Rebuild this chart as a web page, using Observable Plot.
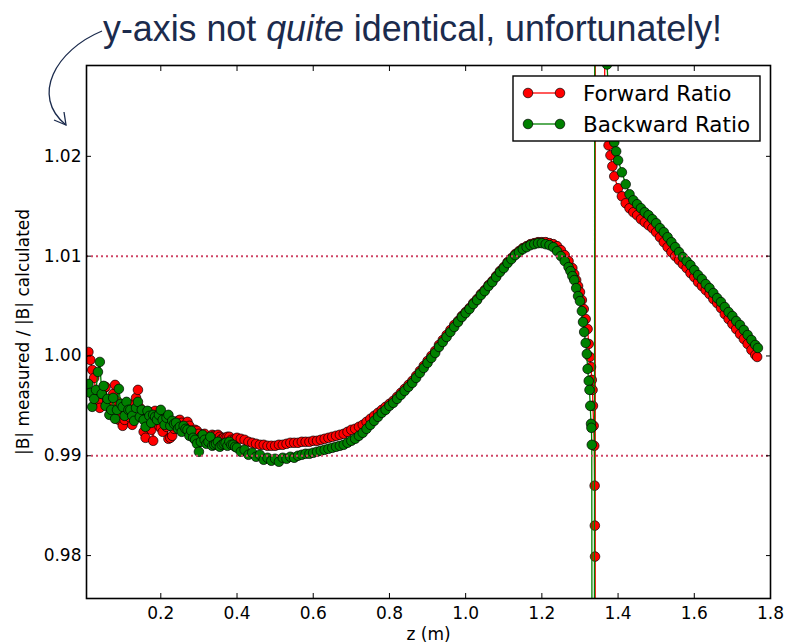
<!DOCTYPE html>
<html>
<head>
<meta charset="utf-8">
<script src="https://cdn.jsdelivr.net/npm/d3@7"></script>
<script src="https://cdn.jsdelivr.net/npm/@observablehq/plot@0.6"></script>
<style>
  html, body { margin: 0; padding: 0; background: #fff; }
  #wrap { position: relative; width: 788px; height: 644px; background: #fff; }
  #wrap > svg { position: absolute; left: 0; top: 0; }
</style>
</head>
<body>
<div id="wrap"></div>
<script>
// Field ratio along the probe path, forward scan (z in metres)
const forwardZ = [
  0.010,0.015,0.020,0.025,0.030,0.035,0.040,0.045,0.050,0.055,
  0.060,0.065,0.070,0.075,0.080,0.085,0.090,0.095,0.100,0.105,
  0.110,0.115,0.120,0.125,0.130,0.135,0.140,0.145,0.150,0.155,
  0.160,0.165,0.170,0.175,0.180,0.185,0.190,0.195,0.200,0.205,
  0.210,0.215,0.220,0.225,0.230,0.235,0.240,0.245,0.250,0.255,
  0.260,0.265,0.270,0.275,0.280,0.285,0.290,0.295,0.300,0.305,
  0.310,0.315,0.320,0.325,0.330,0.335,0.340,0.345,0.350,0.355,
  0.360,0.365,0.370,0.375,0.380,0.385,0.390,0.395,0.400,
  0.41,0.42,0.43,0.44,0.45,0.46,0.47,0.48,0.49,0.50,
  0.51,0.52,0.53,0.54,0.55,0.56,0.57,0.58,0.59,0.60,
  0.61,0.62,0.63,0.64,0.65,0.66,0.67,0.68,0.69,0.70,
  0.71,0.72,0.73,0.74,0.75,0.76,0.77,0.78,0.79,0.80,
  0.81,0.82,0.83,0.84,0.85,0.86,0.87,0.88,0.89,0.90,
  0.91,0.92,0.93,0.94,0.95,0.96,0.97,0.98,0.99,1.00,
  1.01,1.02,1.03,1.04,1.05,1.06,1.07,1.08,1.09,1.10,
  1.11,1.12,1.13,1.14,1.15,1.16,1.17,1.18,1.19,1.20,
  1.21,1.22,1.23,1.24,1.25,1.26,1.27,1.28,1.285,1.29,
  1.295,1.30,1.305,1.31,1.315,1.32,1.323,1.326,1.329,1.331,
  1.333,1.334,1.336,1.3375,1.3385,1.339,1.3395,1.3397,1.3405,
  1.365,1.368,1.371,1.375,1.38,1.385,1.39,
  1.40,1.41,1.42,1.43,1.44,1.45,1.46,1.47,1.48,1.49,
  1.50,1.51,1.52,1.53,1.54,1.55,1.56,1.57,1.58,1.59,
  1.60,1.61,1.62,1.63,1.64,1.65,1.66,1.67,1.68,1.69,
  1.70,1.71,1.72,1.73,1.74,1.75,1.76,1.765
];
const forwardRatio = [
  1.0004,0.9996,0.9986,0.9978,0.9962,0.9955,0.9948,0.9962,0.9967,0.9969,
  0.9955,0.9949,0.9951,0.9962,0.9971,0.9955,0.9936,0.9941,0.9930,0.9936,
  0.9945,0.9950,0.9938,0.9931,0.9952,0.9958,0.9966,0.9948,0.9940,0.9924,
  0.9918,0.9935,0.9944,0.9926,0.9915,0.9945,0.9938,0.9930,0.9928,0.9924,
  0.9934,0.9929,0.9917,0.9918,0.9920,0.9927,0.9931,0.9935,0.9936,0.9933,
  0.9929,0.9928,0.9934,0.9930,0.9925,0.9923,0.9926,0.9925,0.9922,0.9919,
  0.9921,0.9922,0.9916,0.9917,0.9918,0.9921,0.9920,0.9918,0.9921,0.9919,
  0.9917,0.9918,0.9918,0.9919,0.9919,0.9916,0.9915,0.9917,0.9918,
  0.9917,0.9916,0.9914,0.9913,0.9912,0.9911,0.9911,0.9910,0.9910,0.9910,
  0.9911,0.9911,0.9912,0.9913,0.9913,0.9913,0.9914,0.9914,0.9914,0.9915,
  0.9915,0.9916,0.9917,0.9918,0.9919,0.9920,0.9921,0.9922,0.9924,0.9926,
  0.9927,0.9929,0.9931,0.9934,0.9937,0.9940,0.9943,0.9946,0.9949,0.9952,
  0.9955,0.9959,0.9963,0.9967,0.9971,0.9975,0.9980,0.9985,0.9990,0.9995,
  1.0000,1.0005,1.0011,1.0016,1.0021,1.0026,1.0031,1.0035,1.0040,1.0044,
  1.0048,1.0053,1.0057,1.0062,1.0066,1.0071,1.0075,1.0080,1.0085,1.0089,
  1.0094,1.0098,1.0102,1.0105,1.0108,1.0110,1.0112,1.0113,1.0114,1.0114,
  1.0114,1.0113,1.0112,1.0110,1.0106,1.0101,1.0095,1.0088,1.0082,1.0076,
  1.0070,1.0064,1.0056,1.0047,1.0037,1.0027,1.0012,0.9999,0.9989,0.9976,
  0.9966,0.9950,0.9930,0.9910,0.9870,0.9830,0.9799,0.8000,1.3000,
  1.0275,1.0250,1.0228,1.0211,1.0201,1.0190,1.0180,
  1.0168,1.0160,1.0153,1.0148,1.0144,1.0141,1.0137,1.0134,1.0131,1.0128,
  1.0124,1.0119,1.0114,1.0109,1.0104,1.0100,1.0096,1.0092,1.0088,1.0083,
  1.0079,1.0074,1.0070,1.0066,1.0062,1.0057,1.0053,1.0048,1.0042,1.0037,
  1.0032,1.0027,1.0022,1.0017,1.0012,1.0006,1.0001,0.9999
];

// Backward scan
const backwardZ = [
  0.010,0.015,0.020,0.025,0.030,0.035,0.040,0.045,0.050,0.055,
  0.060,0.065,0.070,0.075,0.080,0.085,0.090,0.095,0.100,0.105,
  0.110,0.115,0.120,0.125,0.130,0.135,0.140,0.145,0.150,0.155,
  0.160,0.165,0.170,0.175,0.180,0.185,0.190,0.195,0.200,0.205,
  0.210,0.215,0.220,0.225,0.230,0.235,0.240,0.245,0.250,0.255,
  0.260,0.265,0.270,0.275,0.280,0.285,0.290,0.295,0.300,0.305,
  0.310,0.315,0.320,0.325,0.330,0.335,0.340,0.345,0.350,0.355,
  0.360,0.365,0.370,0.375,0.380,0.385,0.390,0.395,0.400,
  0.41,0.42,0.43,0.44,0.45,0.46,0.47,0.48,0.49,0.50,
  0.51,0.52,0.53,0.54,0.55,0.56,0.57,0.58,0.59,0.60,
  0.61,0.62,0.63,0.64,0.65,0.66,0.67,0.68,0.69,0.70,
  0.71,0.72,0.73,0.74,0.75,0.76,0.77,0.78,0.79,0.80,
  0.81,0.82,0.83,0.84,0.85,0.86,0.87,0.88,0.89,0.90,
  0.91,0.92,0.93,0.94,0.95,0.96,0.97,0.98,0.99,1.00,
  1.01,1.02,1.03,1.04,1.05,1.06,1.07,1.08,1.09,1.10,
  1.11,1.12,1.13,1.14,1.15,1.16,1.17,1.18,1.19,1.20,
  1.21,1.22,1.23,1.24,1.25,1.26,1.27,1.275,1.28,1.285,
  1.29,1.295,1.30,1.305,1.308,1.311,1.315,1.318,1.320,1.323,
  1.325,1.327,1.329,1.330,1.331,1.3355,1.3425,
  1.371,1.374,1.378,1.382,1.386,1.39,1.395,
  1.40,1.41,1.42,1.43,1.44,1.45,1.46,1.47,1.48,1.49,
  1.50,1.51,1.52,1.53,1.54,1.55,1.56,1.57,1.58,1.59,
  1.60,1.61,1.62,1.63,1.64,1.65,1.66,1.67,1.68,1.69,
  1.70,1.71,1.72,1.73,1.74,1.75,1.76,1.767
];
const backwardRatio = [
  0.9972,0.9963,0.9949,0.9957,0.9966,0.9984,0.9994,0.9962,0.9970,0.9950,
  0.9957,0.9941,0.9946,0.9958,0.9937,0.9946,0.9967,0.9952,0.9949,0.9940,
  0.9954,0.9946,0.9946,0.9940,0.9935,0.9948,0.9954,0.9939,0.9946,0.9936,
  0.9929,0.9945,0.9940,0.9933,0.9941,0.9939,0.9936,0.9941,0.9946,0.9936,
  0.9931,0.9938,0.9941,0.9930,0.9935,0.9932,0.9933,0.9927,0.9929,0.9924,
  0.9930,0.9927,0.9926,0.9920,0.9925,0.9918,0.9916,0.9912,0.9904,0.9914,
  0.9921,0.9916,0.9912,0.9914,0.9919,0.9910,0.9911,0.9912,0.9914,0.9909,
  0.9911,0.9912,0.9913,0.9910,0.9914,0.9911,0.9911,0.9909,0.9908,
  0.9904,0.9906,0.9901,0.9903,0.9899,0.9901,0.9896,0.9898,0.9895,0.9897,
  0.9894,0.9898,0.9897,0.9899,0.9898,0.9900,0.9901,0.9902,0.9902,0.9903,
  0.9904,0.9905,0.9906,0.9907,0.9908,0.9909,0.9910,0.9911,0.9913,0.9915,
  0.9917,0.9920,0.9923,0.9927,0.9931,0.9935,0.9939,0.9943,0.9946,0.9950,
  0.9953,0.9957,0.9961,0.9965,0.9969,0.9973,0.9978,0.9983,0.9988,0.9993,
  0.9998,1.0003,1.0009,1.0014,1.0019,1.0024,1.0029,1.0034,1.0039,1.0043,
  1.0047,1.0052,1.0056,1.0061,1.0065,1.0070,1.0074,1.0079,1.0084,1.0088,
  1.0093,1.0097,1.0101,1.0104,1.0107,1.0109,1.0111,1.0112,1.0113,1.0113,
  1.0112,1.0111,1.0109,1.0105,1.0100,1.0095,1.0089,1.0085,1.0080,1.0076,
  1.0068,1.0060,1.0055,1.0045,1.0034,1.0024,1.0013,1.0002,0.9987,0.9975,
  0.9966,0.9950,0.9932,0.9928,0.9911,0.8000,1.3000,
  1.0292,1.0270,1.0250,1.0235,1.0224,1.0214,1.0205,
  1.0196,1.0184,1.0172,1.0162,1.0156,1.0152,1.0148,1.0144,1.0141,1.0137,
  1.0133,1.0128,1.0124,1.0119,1.0114,1.0109,1.0104,1.0099,1.0095,1.0091,
  1.0086,1.0081,1.0077,1.0072,1.0068,1.0063,1.0058,1.0054,1.0049,1.0044,
  1.0040,1.0035,1.0031,1.0026,1.0021,1.0016,1.0011,1.0008
];

const zTicks = [0.2, 0.4, 0.6, 0.8, 1.0, 1.2, 1.4, 1.6, 1.8];
const ratioTicks = [0.98, 0.99, 1.00, 1.01, 1.02];
const toleranceBand = [0.99, 1.01];
const seriesNames = ["Forward Ratio", "Backward Ratio"];
const seriesColors = ["#ff0000", "#008000"];

const forward = forwardZ.map((z, i) => ({z, ratio: forwardRatio[i]}));
const backward = backwardZ.map((z, i) => ({z, ratio: backwardRatio[i]}));

const font = "'DejaVu Sans', sans-serif";
const dotStyle = {r: 4.8, stroke: "#000", strokeWidth: 0.7, clip: true};

const chart = Plot.plot({
  width: 788,
  height: 644,
  marginLeft: 86,
  marginRight: 18,
  marginTop: 65,
  marginBottom: 46,
  style: {fontFamily: font, fontSize: "17px", color: "#000", background: "transparent"},
  x: {domain: [0.005, 1.8]},
  y: {domain: [0.9757, 1.0291]},
  marks: [
    Plot.line(forward, {x: "z", y: "ratio", stroke: seriesColors[0], strokeWidth: 1.3, clip: true}),
    Plot.dot(forward, {x: "z", y: "ratio", fill: seriesColors[0], ...dotStyle}),
    Plot.line(backward, {x: "z", y: "ratio", stroke: seriesColors[1], strokeWidth: 1.3, clip: true}),
    Plot.dot(backward, {x: "z", y: "ratio", fill: seriesColors[1], ...dotStyle}),
    Plot.ruleY(toleranceBand, {stroke: "#cf4565", strokeWidth: 2, strokeDasharray: "2,3"}),
    Plot.frame({stroke: "#000", strokeWidth: 1.6}),
    // inward tick marks on all four sides
    Plot.axisX(zTicks, {anchor: "bottom", tickSize: -5, tickFormat: () => "", label: null}),
    Plot.axisX(zTicks, {anchor: "top", tickSize: -5, tickFormat: () => "", label: null}),
    Plot.axisY(ratioTicks, {anchor: "left", tickSize: -5, tickFormat: () => "", label: null}),
    Plot.axisY(ratioTicks, {anchor: "right", tickSize: -5, tickFormat: () => "", label: null}),
    // tick labels
    Plot.axisX(zTicks, {anchor: "bottom", tickSize: 0, tickPadding: 8, tickFormat: d => d.toFixed(1), label: null}),
    Plot.axisY(ratioTicks, {anchor: "left", tickSize: 0, tickPadding: 5, tickFormat: d => d.toFixed(2), label: null}),
    // axis titles
    Plot.text(["z (m)"], {frameAnchor: "bottom", dy: 36, lineAnchor: "middle", fontSize: 17}),
    Plot.text(["|B| measured / |B| calculated"], {frameAnchor: "left", dx: -63, rotate: -90, lineAnchor: "middle", textAnchor: "middle", fontSize: 17})
  ]
});

const wrap = document.getElementById("wrap");
wrap.appendChild(chart);

// Title, annotation arrow and legend drawn over the chart
const overlay = d3.select(wrap).append("svg")
  .attr("xmlns", "http://www.w3.org/2000/svg")
  .attr("width", 788)
  .attr("height", 644);

const ink = "#1b2b4d";
const title = overlay.append("text")
  .attr("x", 103)
  .attr("y", 41)
  .attr("font-family", "'Liberation Sans Narrow', 'Liberation Sans', Arial, sans-serif")
  .attr("font-size", 37)
  .attr("fill", ink)
  .attr("textLength", 619)
  .attr("lengthAdjust", "spacingAndGlyphs");
title.append("tspan").text("y-axis not ");
title.append("tspan").attr("font-style", "italic").text("quite");
title.append("tspan").text(" identical, unfortunately!");

overlay.append("path")
  .attr("d", "M102,31 C56,50 30,96 66,125")
  .attr("fill", "none")
  .attr("stroke", ink)
  .attr("stroke-width", 1.3);
overlay.append("path")
  .attr("d", "M54,120 L66,125 L64,112")
  .attr("fill", "none")
  .attr("stroke", ink)
  .attr("stroke-width", 1.3)
  .attr("stroke-linejoin", "miter");

const legend = overlay.append("g");
legend.append("rect")
  .attr("x", 513).attr("y", 76).attr("width", 247).attr("height", 65)
  .attr("fill", "#fff").attr("stroke", "#000").attr("stroke-width", 1.4);
seriesNames.forEach((name, i) => {
  const cy = 93 + i * 31;
  legend.append("line")
    .attr("x1", 528).attr("x2", 560).attr("y1", cy).attr("y2", cy)
    .attr("stroke", seriesColors[i]).attr("stroke-width", 1.3);
  [528, 560].forEach(cx => legend.append("circle")
    .attr("cx", cx).attr("cy", cy).attr("r", 4.8)
    .attr("fill", seriesColors[i]).attr("stroke", "#000").attr("stroke-width", 0.7));
  legend.append("text")
    .attr("x", 583).attr("y", cy)
    .attr("dy", "0.36em")
    .attr("font-family", font)
    .attr("font-size", 21.5)
    .attr("fill", "#000")
    .text(name);
});
</script>
</body>
</html>
